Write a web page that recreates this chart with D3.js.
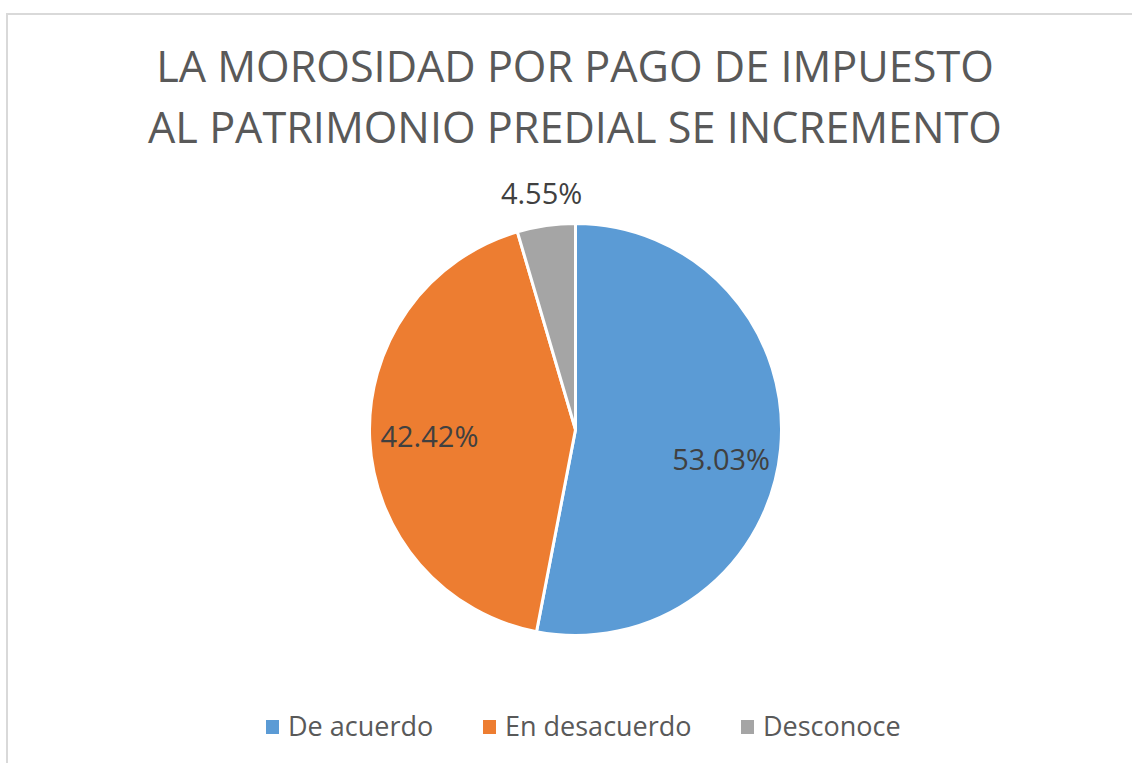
<!DOCTYPE html>
<html lang="es">
<head>
<meta charset="UTF-8">
<title>Morosidad</title>
<script src="https://d3js.org/d3.v7.min.js"></script>
<style>
  body { margin: 0; background: #fff; }
  text { font-family: "Open Sans", sans-serif; }
</style>
</head>
<body>
<script>
    var categories = ["De acuerdo", "En desacuerdo", "Desconoce"];
    var values = [53.03, 42.42, 4.55];
    var colors = ["#5B9BD5", "#ED7D31", "#A5A5A5"];
    var titleLines = ["LA MOROSIDAD POR PAGO DE IMPUESTO", "AL PATRIMONIO PREDIAL SE INCREMENTO"];

    var width = 1132, height = 763;
    var r = 206;

    var svg = d3.select("body").append("svg")
        .attr("width", width)
        .attr("height", height);

    // chart frame (only top and left edges show in the shot)
    svg.append("rect")
        .attr("x", 7).attr("y", 14)
        .attr("width", 1140).attr("height", 780)
        .attr("fill", "none")
        .attr("stroke", "#d9d9d9")
        .attr("stroke-width", 2);

    svg.selectAll(".title")
        .data(titleLines)
        .enter().append("text")
        .attr("class", "title")
        .attr("x", 575)
        .attr("y", function (d, i) { return 82 + i * 61; })
        .attr("text-anchor", "middle")
        .attr("font-size", 43.2)
        .attr("fill", "#595959")
        .text(function (d) { return d; });

    var color = d3.scaleOrdinal().domain(categories).range(colors);

    var pie = d3.pie().sort(null).value(function (d) { return d.value; });
    var data = categories.map(function (c, i) { return { name: c, value: values[i] }; });

    var arc = d3.arc().innerRadius(0).outerRadius(r);
    var inLabel = d3.arc().innerRadius(r * 0.71).outerRadius(r * 0.71);
    var outLabel = d3.arc().innerRadius(r + 32).outerRadius(r + 32);

    var g = svg.append("g").attr("transform", "translate(575.5,429.5)");

    var slices = g.selectAll(".arc")
        .data(pie(data))
        .enter().append("g")
        .attr("class", "arc");

    slices.append("path")
        .attr("d", arc)
        .attr("fill", function (d) { return color(d.data.name); })
        .attr("stroke", "#fff")
        .attr("stroke-width", 3);

    slices.append("text")
        .attr("transform", function (d) {
            var small = d.data.value < 10;
            var p = (small ? outLabel : inLabel).centroid(d);
            // Excel pushes the right-hand label a little lower
            if (!small && p[0] > 0) p[1] += 16;
            return "translate(" + p + ")";
        })
        .attr("text-anchor", "middle")
        .attr("dy", "0.35em")
        .attr("font-size", 29)
        .attr("fill", "#404040")
        .text(function (d) { return d.data.value.toFixed(2) + "%"; });

    // legend
    var legend = svg.append("g").attr("transform", "translate(266,727)");
    var xPos = [0, 217, 475];
    var items = legend.selectAll(".leg")
        .data(categories)
        .enter().append("g")
        .attr("class", "leg")
        .attr("transform", function (d, i) { return "translate(" + xPos[i] + ",0)"; });

    items.append("rect")
        .attr("x", 0).attr("y", -7)
        .attr("width", 13).attr("height", 14)
        .attr("fill", function (d) { return color(d); });

    items.append("text")
        .attr("x", 22)
        .attr("dy", "0.35em")
        .attr("font-size", 27)
        .attr("fill", "#595959")
        .text(function (d) { return d; });
</script>
</body>
</html>
